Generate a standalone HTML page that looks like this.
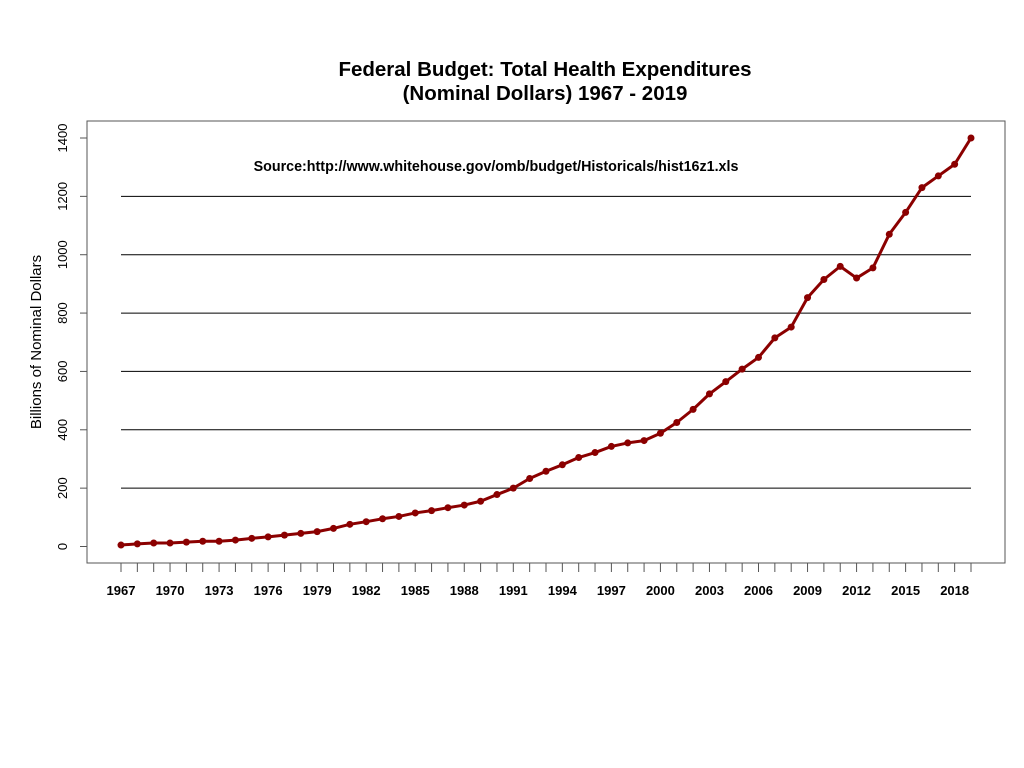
<!DOCTYPE html>
<html><head><meta charset="utf-8"><style>
html,body{margin:0;padding:0;background:#fff;}
svg{display:block;font-family:"Liberation Sans",Arial,sans-serif;}
</style></head><body>
<svg id="chart" width="1024" height="768" viewBox="0 0 1024 768">
<text x="545" y="76" text-anchor="middle" font-size="20.5" font-weight="bold">Federal Budget: Total Health Expenditures</text>
<text x="545" y="100" text-anchor="middle" font-size="20.5" font-weight="bold">(Nominal Dollars) 1967 - 2019</text>
<rect x="87" y="121" width="918" height="442" fill="none" stroke="#555" stroke-width="1"/>
<text x="496" y="171" text-anchor="middle" font-size="14.3" font-weight="bold">Source:http://www.whitehouse.gov/omb/budget/Historicals/hist16z1.xls</text>
<text transform="translate(41,342) rotate(-90)" text-anchor="middle" font-size="15">Billions of Nominal Dollars</text>
<g id="grid"></g><g id="yaxis"></g><g id="xaxis"></g><g id="series"></g>
</svg>
<script>
const years = [];
for (let y = 1967; y <= 2019; y++) years.push(y);
const values = [5,9,12,12,15,18,18,22,28,33,39,45,51,62,76,85,95,103,115,123,133,142,155,178,200,233,258,280,305,322,343,355,363,388,425,470,523,565,608,648,715,752,853,915,960,920,955,1070,1145,1230,1270,1310,1400];
const yTicks = [0,200,400,600,800,1000,1200,1400];
const gridValues = [200,400,600,800,1000,1200];
const xLabelYears = [1967,1970,1973,1976,1979,1982,1985,1988,1991,1994,1997,2000,2003,2006,2009,2012,2015,2018];

const NS = "http://www.w3.org/2000/svg";
const xs = yr => 121 + (yr - 1967) * (850 / 52);
const ys = v => 546.5 - v * (408.5 / 1400);
function mk(tag, attrs, parent) {
  const e = document.createElementNS(NS, tag);
  for (const k in attrs) e.setAttribute(k, attrs[k]);
  parent.appendChild(e);
  return e;
}
const grid = document.getElementById('grid');
gridValues.forEach(v => {
  const l = mk('line', {x1: xs(1967), x2: xs(2019), y1: ys(v), y2: ys(v), stroke: '#000', 'stroke-width': 1}, grid);
  
  
});
const ya = document.getElementById('yaxis');
yTicks.forEach(v => {
  const t = mk('line', {x1: 80, x2: 87, y1: ys(v), y2: ys(v), stroke: '#555'}, ya);
  
  
  const tx = mk('text', {transform: `translate(67,${ys(v)}) rotate(-90)`, 'text-anchor': 'middle', 'font-size': 13}, ya);
  tx.textContent = v;
  
  
});
const xa = document.getElementById('xaxis');
years.forEach(yr => {
  const t = mk('line', {x1: xs(yr), x2: xs(yr), y1: 563, y2: 572, stroke: '#555'}, xa);
  
  
});
xLabelYears.forEach(yr => {
  const tx = mk('text', {x: xs(yr), y: 595, 'text-anchor': 'middle', 'font-size': 13, 'font-weight': 'bold'}, xa);
  tx.textContent = yr;
  
  
});
const sg = document.getElementById('series');
const pts = years.map((yr, i) => xs(yr) + ',' + ys(values[i])).join(' ');
const pl = mk('polyline', {points: pts, fill: 'none', stroke: '#8b0000', 'stroke-width': 3, 'stroke-linejoin': 'round'}, sg);


years.forEach((yr, i) => {
  const c = mk('circle', {cx: xs(yr), cy: ys(values[i]), r: 3.5, fill: '#8b0000'}, sg);
  
  
});
</script>
</body></html>
